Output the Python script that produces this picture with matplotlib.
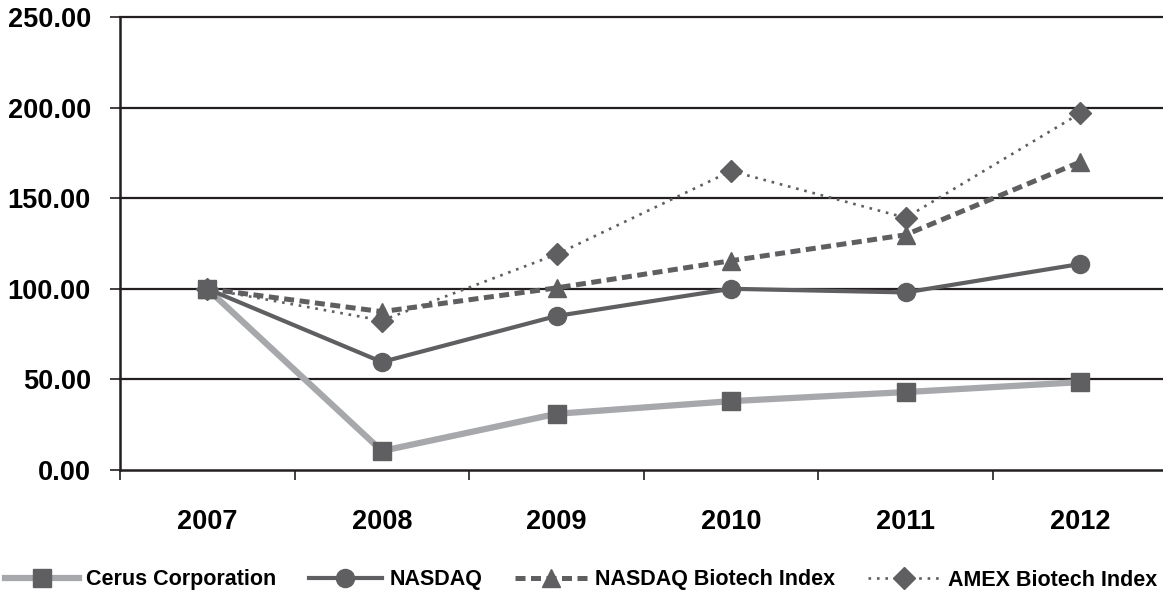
import numpy as np
import matplotlib
matplotlib.use("Agg")
import matplotlib.pyplot as plt

years = ["2007", "2008", "2009", "2010", "2011", "2012"]
cerus = [100.0, 10.5, 31.0, 38.0, 43.0, 48.5]
nasdaq = [100.0, 59.6, 85.0, 100.0, 98.0, 113.7]
nasdaq_bio = [100.0, 87.4, 100.5, 115.5, 129.8, 170.0]
amex_bio = [100.0, 82.5, 119.0, 165.0, 139.2, 196.9]

plt.rcParams["font.family"] = ["Liberation Sans", "DejaVu Sans"]
plt.rcParams["font.weight"] = "bold"

dark = "#5f5f61"
light = "#a7a8ab"
ink = "#231f20"

fig = plt.figure(figsize=(11.63, 5.97), dpi=100)
ax = fig.add_axes([120 / 1163, 1 - 470 / 597, (1167.6 - 120) / 1163, (470 - 17) / 597])

x = np.arange(len(years))

# gridlines
for v in [50, 100, 150, 200, 250]:
    ax.axhline(v, color=ink, lw=1.6, zorder=1, clip_on=False)

ax.plot(x, cerus, color=light, lw=4.5, marker="s", ms=13, mfc=dark, mec=dark,
        zorder=3, label="Cerus Corporation")
ax.plot(x, nasdaq, color=dark, lw=3.0, marker="o", ms=13, mfc=dark, mec=dark,
        zorder=3, label="NASDAQ")
ax.plot(x, nasdaq_bio, color=dark, lw=3.6, dashes=(2.0, 1.1), marker="^", ms=13,
        mfc=dark, mec=dark, zorder=3, label="NASDAQ Biotech Index")
ax.plot(x, amex_bio, color=dark, lw=1.9, dashes=(1.0, 2.2), marker="D", ms=11,
        mfc=dark, mec=dark, zorder=3, label="AMEX Biotech Index")

ax.set_xlim(-0.5, 5.5)
ax.set_ylim(0, 250)

ax.set_yticks([0, 50, 100, 150, 200, 250])
ax.set_yticklabels(["%.2f" % v for v in [0, 50, 100, 150, 200, 250]])
ax.tick_params(axis="y", length=7, width=1.2, color=ink, pad=14, labelsize=19.5)

ax.set_xticks(x)
ax.set_xticklabels(years)
ax.tick_params(axis="x", which="major", length=0, pad=28, labelsize=19.5)
ax.set_xticks(np.arange(-0.5, 6, 1.0), minor=True)
ax.tick_params(axis="x", which="minor", length=7, width=1.2, color=ink)

for s in ["top", "right"]:
    ax.spines[s].set_visible(False)
ax.spines["left"].set_color(ink)
ax.spines["left"].set_linewidth(1.8)
ax.spines["bottom"].set_color(ink)
ax.spines["bottom"].set_linewidth(1.8)

fig.legend(loc="center", bbox_to_anchor=(0.5, 1 - 580 / 597), ncol=4, frameon=False,
           fontsize=15.5, handlelength=3.4, handletextpad=0.35, columnspacing=1.5,
           borderaxespad=0, borderpad=0)

fig.savefig("out.png", dpi=100)
